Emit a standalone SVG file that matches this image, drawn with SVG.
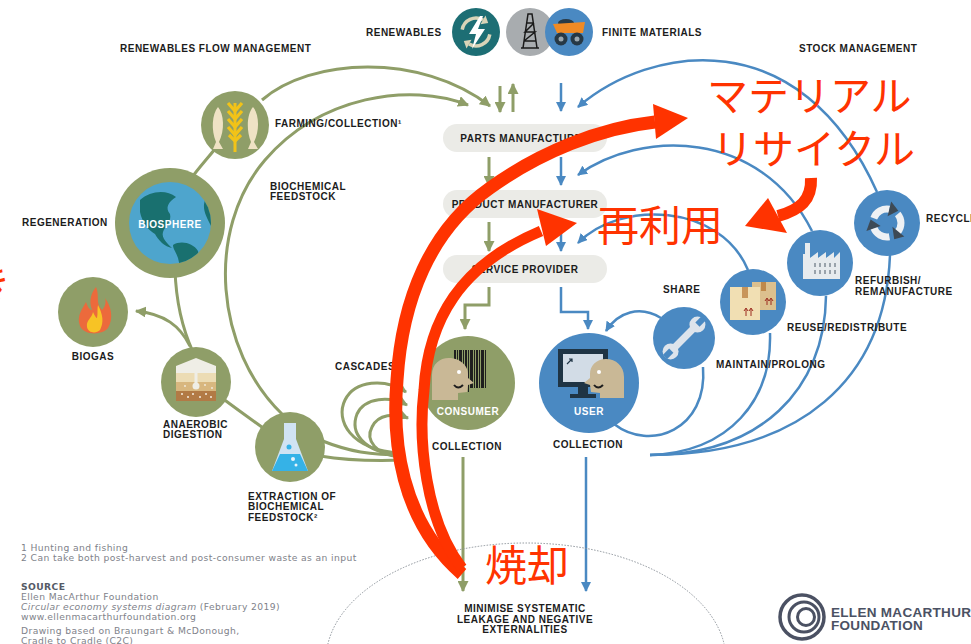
<svg xmlns="http://www.w3.org/2000/svg" width="971" height="644" viewBox="0 0 971 644">
<defs>
<style>
.lbl{font-family:"Liberation Sans",Arial,sans-serif;font-weight:bold;font-size:10px;letter-spacing:0.5px;fill:#1c1c1c}
.inner{font-family:"Liberation Sans",Arial,sans-serif;font-weight:bold;font-size:10px;letter-spacing:0.5px;fill:#ffffff}
.note{font-family:"DejaVu Sans",Verdana,sans-serif;font-size:9.2px;letter-spacing:0.4px;fill:#80828a}
.src{font-family:"DejaVu Sans",Verdana,sans-serif;font-size:9.2px;font-weight:bold;letter-spacing:0.4px;fill:#555a66}
.logo{font-family:"Liberation Sans",Arial,sans-serif;font-weight:bold;font-size:13.5px;letter-spacing:0.3px;fill:#4b5163}
.gl{fill:none;stroke:#8f9e68;stroke-width:3}
.bl{fill:none;stroke:#4a89c2;stroke-width:2.5}
.gc{fill:#8f9e68}
.bc{fill:#4a89c2}
.pill{fill:#ebebe7}
.skin{fill:#c9b896}
.rd{fill:none;stroke:#ff3300}
.rh{fill:#ff3300}
.jp{font-family:"Noto Sans CJK JP","Noto Sans CJK SC",sans-serif;fill:#ff3300}
</style>
<marker id="ag" viewBox="0 0 10 10" refX="9" refY="5" markerWidth="11" markerHeight="11" markerUnits="userSpaceOnUse" orient="auto"><path d="M0,0 L10,5 L0,10 z" fill="#8f9e68"/></marker>
<marker id="ab" viewBox="0 0 10 10" refX="9" refY="5" markerWidth="10" markerHeight="10" markerUnits="userSpaceOnUse" orient="auto"><path d="M0,0 L10,5 L0,10 z" fill="#4a89c2"/></marker>
<clipPath id="globeClip"><circle cx="170" cy="223" r="41"/></clipPath>
</defs>

<rect width="971" height="644" fill="#ffffff"/>

<!-- connectors -->
<g id="connectors">
  <!-- biological cycle (green) -->
  <path class="gl" d="M262,100 C310,58 420,52 490,106" marker-end="url(#ag)"/>
  <path class="gl" d="M283,415 C215,350 205,230 265,160 C320,96 410,82 468,105" marker-end="url(#ag)"/>
  <path class="gl" d="M190,180 C200,166 210,156 222,140"/>
  <path class="gl" d="M175,270 C176,300 183,330 193,352"/>
  <path class="gl" d="M190,346 C180,326 165,314 136,311" marker-end="url(#ag)"/>
  <path class="gl" d="M222,398 C238,410 252,420 266,430"/>
  <path class="gl" d="M320,440 C350,452 370,455 405,455"/>
  <path class="gl" d="M320,456 C350,461 380,461 405,460"/>
  <path class="gl" d="M400,453 C350,450 335,420 345,400 C355,380 385,378 406,392" marker-end="url(#ag)"/>
  <path class="gl" d="M400,455 C362,452 350,432 357,414 C365,397 390,396 407,405" marker-end="url(#ag)"/>
  <path class="gl" d="M400,457 C376,455 365,440 372,427 C378,414 395,413 408,418" marker-end="url(#ag)"/>
  <line class="gl" x1="500" y1="86" x2="500" y2="112" marker-end="url(#ag)"/>
  <line class="gl" x1="513" y1="112" x2="513" y2="84" marker-end="url(#ag)"/>
  <line class="gl" x1="489" y1="157" x2="489" y2="186" marker-end="url(#ag)"/>
  <line class="gl" x1="489" y1="222" x2="489" y2="251" marker-end="url(#ag)"/>
  <path class="gl" d="M489,287 V305 H465 V329" marker-end="url(#ag)"/>
  <line class="gl" x1="463" y1="457" x2="463" y2="591" marker-end="url(#ag)"/>

  <!-- technical cycle (blue) -->
  <line class="bl" x1="561" y1="83" x2="561" y2="111" marker-end="url(#ab)"/>
  <line class="bl" x1="561" y1="157" x2="561" y2="185" marker-end="url(#ab)"/>
  <line class="bl" x1="561" y1="222" x2="561" y2="251" marker-end="url(#ab)"/>
  <path class="bl" d="M561,287 V312 H588 V329" marker-end="url(#ab)"/>
  <line class="bl" x1="586" y1="457" x2="586" y2="591" marker-end="url(#ab)"/>
  <path class="bl" d="M877,192 C800,20 650,45 578,107" marker-end="url(#ab)"/>
  <path class="bl" d="M812,231 C760,128 640,130 578,175" marker-end="url(#ab)"/>
  <path class="bl" d="M748,270 C720,203 620,200 578,243" marker-end="url(#ab)"/>
  <path class="bl" d="M661,318 C640,305 618,312 606,331" marker-end="url(#ab)"/>
  <path class="bl" d="M703,367 C708,430 650,452 614,424"/>
  <path class="bl" d="M770,333 C772,400 730,452 650,455"/>
  <path class="bl" d="M826,296 C825,390 760,455 650,455"/>
  <path class="bl" d="M890,255 C885,380 800,455 650,455"/>

  <!-- leakage boundary -->
  <ellipse cx="526" cy="660" rx="200" ry="117" fill="none" stroke="#8b9299" stroke-width="1" stroke-dasharray="1.5 1.5"/>
</g>

<!-- sources -->
<g id="renewables">
  <circle cx="476" cy="32" r="24" fill="#1d6e74"/>
  <g fill="none" stroke="#d9d4b8" stroke-width="3.5">
    <path d="M462.2,29.6 A14,14 0 0 1 483,19.9"/>
    <path d="M489.8,34.4 A14,14 0 0 1 469,44.1"/>
  </g>
  <g fill="#d9d4b8">
    <polygon points="488.2,22.9 485.5,15.6 480.5,24.2"/>
    <polygon points="463.8,41.1 466.5,48.4 471.5,39.8"/>
  </g>
  <polygon points="480,16 469,34 476,34 472,49 485,29 478,29 483,16" fill="#ffffff"/>
  <text class="lbl" x="366" y="36">RENEWABLES</text>
</g>
<g id="finite-materials">
  <circle cx="530" cy="32" r="24" fill="#a8acaf"/>
  <path d="M523,48 L528,14 L532,14 L537,48 M524,41 L536,41 M525,32 L535,32 M526,23 L534,23 M524,41 L535,32 L525,32 L534,23 M521,48 H539" fill="none" stroke="#1a1a1a" stroke-width="1.5"/>
  <circle cx="569" cy="32" r="24" fill="#4a89c2"/>
  <ellipse cx="566" cy="23" rx="8" ry="4" fill="#2a3b47"/>
  <polygon points="553,24 585,22 583,33 557,33" fill="#f08a24"/>
  <circle cx="561" cy="39" r="6.5" fill="#263845"/>
  <circle cx="561" cy="39" r="2.5" fill="#9aa6ae"/>
  <circle cx="577" cy="39" r="6.5" fill="#263845"/>
  <circle cx="577" cy="39" r="2.5" fill="#9aa6ae"/>
  <text class="lbl" x="602" y="36">FINITE MATERIALS</text>
</g>

<g id="headings">
  <text class="lbl" x="120" y="52">RENEWABLES FLOW MANAGEMENT</text>
  <text class="lbl" x="799" y="52">STOCK MANAGEMENT</text>
  <text class="lbl" x="270" y="190">BIOCHEMICAL</text>
  <text class="lbl" x="270" y="200">FEEDSTOCK</text>
  <text class="lbl" x="335" y="370">CASCADES</text>
  <text class="lbl" x="663" y="293">SHARE</text>
</g>

<!-- value chain -->
<g id="parts-manufacturer">
  <rect class="pill" x="443" y="124" width="164" height="28" rx="14"/>
  <text class="lbl" x="525" y="141.5" text-anchor="middle">PARTS MANUFACTURER</text>
</g>
<g id="product-manufacturer">
  <rect class="pill" x="443" y="190" width="164" height="28" rx="14"/>
  <text class="lbl" x="525" y="207.5" text-anchor="middle">PRODUCT MANUFACTURER</text>
</g>
<g id="service-provider">
  <rect class="pill" x="443" y="255" width="164" height="28" rx="14"/>
  <text class="lbl" x="525" y="272.5" text-anchor="middle">SERVICE PROVIDER</text>
</g>

<!-- biological nodes -->
<g id="farming">
  <circle class="gc" cx="235" cy="125" r="34"/>
  <line x1="235" y1="103" x2="235" y2="152" stroke="#f2c318" stroke-width="3"/>
  <path d="M228,103 L235,111 L242,103 M228,111 L235,119 L242,111 M228,119 L235,127 L242,119 M228,127 L235,135 L242,127 M229,135 L235,141 L241,135" fill="none" stroke="#f2c318" stroke-width="3.2"/>
  <path d="M218,107 C224,114 225,130 219,142 L223,149 L213,149 L216,142 C211,130 212,114 218,107 Z" fill="#efe2c4"/>
  <path d="M253,107 C259,114 260,130 254,142 L258,149 L248,149 L251,142 C246,130 247,114 253,107 Z" fill="#efe2c4"/>
  <text class="lbl" x="275" y="127">FARMING/COLLECTION¹</text>
</g>
<g id="biosphere">
  <circle class="gc" cx="170" cy="223" r="55"/>
  <circle cx="170" cy="223" r="41" fill="#4ea5cd"/>
  <g clip-path="url(#globeClip)" fill="#19706f">
    <path d="M140,200 C150,191 166,189 176,197 C168,202 165,208 170,214 C172,222 165,226 163,232 C161,238 168,244 172,248 C165,247 158,240 155,234 C148,230 142,222 140,212 Z"/>
    <path d="M173,245 C181,240 193,243 198,251 C200,259 192,266 187,272 C182,280 180,266 178,258 C176,252 173,249 173,245 Z"/>
    <path d="M206,198 C214,204 216,215 211,226 C206,216 201,208 206,198 Z"/>
  </g>
  <text class="inner" x="170" y="228" text-anchor="middle">BIOSPHERE</text>
  <text class="lbl" x="22" y="226">REGENERATION</text>
</g>
<g id="biogas">
  <circle class="gc" cx="93" cy="312" r="35"/>
  <path d="M96,287 C100,296 95,303 102,310 C106,306 106,301 105,298 C111,306 114,318 108,328 C103,335 84,336 80,326 C76,316 83,308 86,302 C88,308 90,310 92,310 C88,300 92,292 96,287 Z" fill="#ec6a3c"/>
  <path d="M98,305 C103,315 104,322 100,330 C96,334 88,333 87,327 C86,320 92,318 93,312 C95,316 96,318 97,318 C98,313 97,309 98,305 Z" fill="#f7c325"/>
  <text class="lbl" x="93" y="360" text-anchor="middle">BIOGAS</text>
</g>
<g id="anaerobic-digestion">
  <circle class="gc" cx="196" cy="382" r="35"/>
  <polygon points="176,366 196,358 216,366 216,373 176,373" fill="#efeee6"/>
  <rect x="176" y="373" width="40" height="9" fill="#ecdcb4"/>
  <rect x="176" y="382" width="40" height="9" fill="#d8b77f"/>
  <rect x="176" y="391" width="40" height="10" fill="#b27a45"/>
  <rect x="194.5" y="366" width="3" height="18" fill="#efeee6"/>
  <circle cx="196" cy="386" r="3.5" fill="#efeee6"/>
  <g fill="#f4eee2">
    <circle cx="182" cy="394" r="1"/><circle cx="188" cy="397" r="1"/><circle cx="193" cy="394" r="1"/>
    <circle cx="200" cy="397" r="1"/><circle cx="206" cy="394" r="1"/><circle cx="211" cy="397" r="1"/>
    <circle cx="185" cy="386" r="0.9"/><circle cx="205" cy="385" r="0.9"/><circle cx="212" cy="388" r="0.9"/>
  </g>
  <text class="lbl" x="163" y="428">ANAEROBIC</text>
  <text class="lbl" x="163" y="438">DIGESTION</text>
</g>
<g id="extraction">
  <circle class="gc" cx="290" cy="447" r="35"/>
  <path d="M284,423 L296,423 L296,439 L308,471 L272,471 L284,439 Z" fill="#d0e3f3"/>
  <path d="M280,454 L300,454 L308,471 L272,471 Z" fill="#35b2e7"/>
  <circle cx="289" cy="447" r="2.5" fill="#35b2e7"/>
  <circle cx="293" cy="459" r="2" fill="#e8f4fb"/>
  <circle cx="296" cy="465" r="1.5" fill="#e8f4fb"/>
  <text class="lbl" x="248" y="500">EXTRACTION OF</text>
  <text class="lbl" x="248" y="510">BIOCHEMICAL</text>
  <text class="lbl" x="248" y="521">FEEDSTOCK²</text>
</g>
<g id="consumer">
  <circle class="gc" cx="468" cy="383" r="47"/>
  <g fill="#1e1e1e">
    <rect x="454" y="350" width="2" height="42"/><rect x="457" y="350" width="1" height="42"/>
    <rect x="459" y="350" width="3" height="42"/><rect x="463" y="350" width="1" height="42"/>
    <rect x="465" y="350" width="2" height="42"/><rect x="468" y="350" width="1" height="42"/>
    <rect x="470" y="350" width="3" height="38"/><rect x="474" y="350" width="1" height="38"/>
    <rect x="476" y="350" width="2" height="38"/><rect x="479" y="350" width="1" height="38"/>
    <rect x="481" y="350" width="3" height="38"/><rect x="485" y="350" width="1" height="38"/>
  </g>
  <path class="skin" d="M432,400 L432,375 C432,363 441,357 451,358 C461,359 468,366 468,374 L468,378 L474,383 L468,385 L467,392 L458,393 L458,400 Z"/>
  <circle cx="459" cy="372" r="2" fill="#ffffff"/>
  <path d="M454,385 Q458,390 463,385" fill="none" stroke="#1e1e1e" stroke-width="2"/>
  <text class="inner" x="468" y="415" text-anchor="middle">CONSUMER</text>
  <text class="lbl" x="467" y="450" text-anchor="middle">COLLECTION</text>
</g>

<!-- technical nodes -->
<g id="user">
  <circle class="bc" cx="589" cy="383" r="50"/>
  <rect x="558" y="349" width="50" height="38" fill="#1f3444"/>
  <rect x="563" y="354" width="40" height="28" fill="#d2dce6"/>
  <rect x="578" y="387" width="10" height="7" fill="#1f3444"/>
  <rect x="570" y="394" width="26" height="4" fill="#1f3444"/>
  <path d="M567,364 L572,359 M569,359 H572 V362" fill="none" stroke="#1f3444" stroke-width="1.2"/>
  <path class="skin" d="M624,398 L624,377 C624,366 616,359 606,359 C596,359 590,366 590,374 L590,378 L584,383 L590,385 L591,392 L600,393 L600,398 Z"/>
  <circle cx="599" cy="372" r="2" fill="#ffffff"/>
  <path d="M594,385 Q598,390 603,385" fill="none" stroke="#1e1e1e" stroke-width="2"/>
  <text class="inner" x="589" y="415" text-anchor="middle">USER</text>
  <text class="lbl" x="588" y="448" text-anchor="middle">COLLECTION</text>
</g>
<g id="maintain">
  <circle class="bc" cx="684" cy="338" r="31"/>
  <g transform="rotate(-45 684 338)" fill="#dde4ec">
    <rect x="668" y="334.5" width="32" height="7" rx="3"/>
    <circle cx="665" cy="338" r="8"/>
    <circle cx="703" cy="338" r="8"/>
    <rect x="657" y="335" width="9" height="6" fill="#4a89c2"/>
    <rect x="703" y="335" width="9" height="6" fill="#4a89c2"/>
  </g>
  <text class="lbl" x="716" y="368">MAINTAIN/PROLONG</text>
</g>
<g id="reuse">
  <circle class="bc" cx="753" cy="302" r="33"/>
  <rect x="752" y="282" width="24" height="28" fill="#dcc08e"/>
  <rect x="761" y="282" width="5" height="9" fill="#c0894a"/>
  <rect x="730" y="287" width="30" height="33" fill="#f1dfb3"/>
  <rect x="742" y="287" width="6" height="11" fill="#c8955a"/>
  <path d="M746,316 V309 M744,311 L746,308 L748,311 M751,316 V309 M749,311 L751,308 L753,311 M767,305 V299 M765,301 L767,298 L769,301 M771,305 V299 M769,301 L771,298 L773,301" fill="none" stroke="#9c2b1f" stroke-width="1"/>
  <text class="lbl" x="787" y="331">REUSE/REDISTRIBUTE</text>
</g>
<g id="refurbish">
  <circle class="bc" cx="820" cy="263" r="33"/>
  <path d="M803,279 L803,254 L805,254 L805,243 L810,243 L810,258 L818,252 L818,258 L826,252 L826,258 L834,252 L834,258 L840,252 L840,279 Z" fill="#e7ebee"/>
  <g fill="#9aa3ab">
    <rect x="814" y="263" width="2" height="4"/><rect x="819" y="263" width="2" height="4"/><rect x="824" y="263" width="2" height="4"/><rect x="829" y="263" width="2" height="4"/><rect x="834" y="263" width="2" height="4"/>
    <rect x="814" y="270" width="2" height="4"/><rect x="819" y="270" width="2" height="4"/><rect x="824" y="270" width="2" height="4"/><rect x="829" y="270" width="2" height="4"/><rect x="834" y="270" width="2" height="4"/>
  </g>
  <text class="lbl" x="855" y="284">REFURBISH/</text>
  <text class="lbl" x="855" y="295">REMANUFACTURE</text>
</g>
<g id="recycle">
  <circle class="bc" cx="887" cy="223" r="33"/>
  <g fill="none" stroke="#eef1f4" stroke-width="7">
    <path d="M873.8,218.2 A14,14 0 0 1 889.4,209.2"/>
    <path d="M897.7,214 A14,14 0 0 1 897.7,232"/>
    <path d="M889.4,236.8 A14,14 0 0 1 873.8,227.8"/>
  </g>
  <g fill="#3d4a56">
    <polygon points="898.3,210.7 891.2,201.4 887.6,216.2"/>
    <polygon points="894.2,239.2 904.3,236.6 892.4,226.8"/>
    <polygon points="870.6,219.4 866.4,231.1 880.6,226.1"/>
  </g>
  <text class="lbl" x="926" y="222">RECYCLE</text>
</g>

<g id="leakage">
  <text class="lbl" x="525" y="612" text-anchor="middle">MINIMISE SYSTEMATIC</text>
  <text class="lbl" x="525" y="623" text-anchor="middle">LEAKAGE AND NEGATIVE</text>
  <text class="lbl" x="525" y="633" text-anchor="middle">EXTERNALITIES</text>
</g>

<!-- footnotes and source -->
<g id="notes">
  <text class="note" x="21" y="551">1 Hunting and fishing</text>
  <text class="note" x="21" y="561">2 Can take both post-harvest and post-consumer waste as an input</text>
  <text class="src" x="21" y="590">SOURCE</text>
  <text class="note" x="21" y="600">Ellen MacArthur Foundation</text>
  <text class="note" x="21" y="610"><tspan font-style="italic">Circular economy systems diagram</tspan> (February 2019)</text>
  <text class="note" x="21" y="620">www.ellenmacarthurfoundation.org</text>
  <text class="note" x="21" y="634">Drawing based on Braungart &amp; McDonough,</text>
  <text class="note" x="21" y="644">Cradle to Cradle (C2C)</text>
</g>

<g id="logo">
  <circle cx="802" cy="617" r="22" fill="none" stroke="#4b5163" stroke-width="3.5"/>
  <circle cx="804" cy="617" r="15" fill="none" stroke="#4b5163" stroke-width="3"/>
  <circle cx="806" cy="617" r="8.5" fill="none" stroke="#4b5163" stroke-width="3"/>
  <text class="logo" x="831" y="617">ELLEN MACARTHUR</text>
  <text class="logo" x="831" y="630">FOUNDATION</text>
</g>

<!-- red annotations -->
<g id="annotations">
  <path class="rd" stroke-width="13" d="M462,574 C400,520 392,440 397,380 C402,300 430,230 490,188 C540,152 600,128 655,122"/>
  <polygon class="rh" points="653,104 688,118 656,139"/>
  <path class="rd" stroke-width="11" d="M462,568 C425,520 418,440 424,390 C428,320 460,265 541,231"/>
  <polygon class="rh" points="537,209 577,223 546,246"/>
  <path class="rd" stroke-width="12" d="M811,178 C812,200 800,210 778,216"/>
  <polygon class="rh" points="768,198 745,226 787,233"/>
  <text class="jp" x="707" y="111" font-size="41">マテリアル</text>
  <text class="jp" x="712" y="164" font-size="41">リサイクル</text>
  <text class="jp" x="597" y="241" font-size="42">再利用</text>
  <text class="jp" x="485" y="581" font-size="42">焼却</text>
  <text class="jp" x="11" y="300" font-size="42" text-anchor="end">き</text>
</g>
</svg>
